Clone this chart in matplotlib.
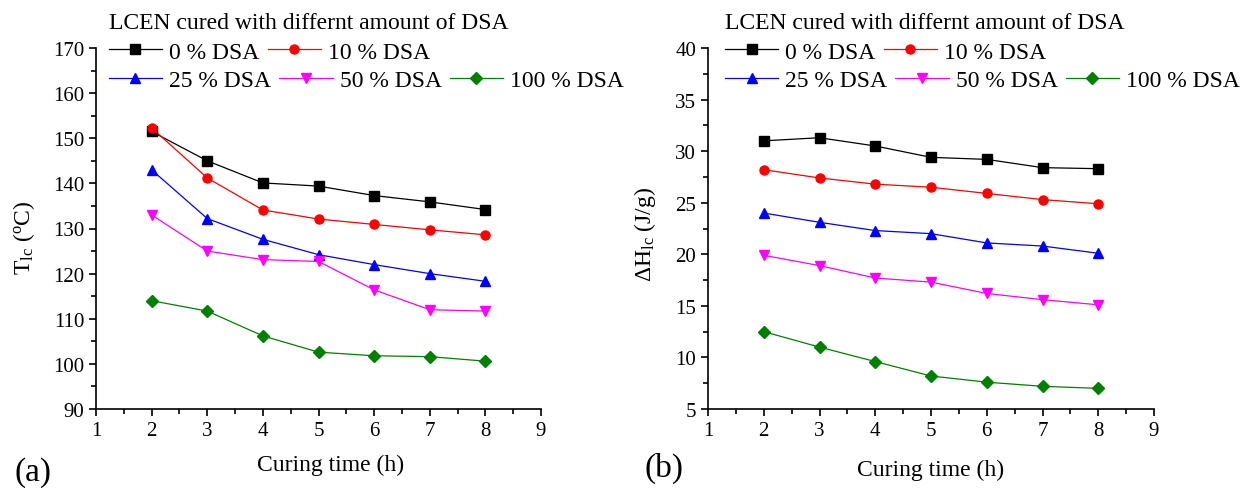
import matplotlib
matplotlib.use("Agg")
import matplotlib.pyplot as plt
from matplotlib.ticker import MultipleLocator

plt.rcParams['font.family'] = ['Liberation Serif', 'DejaVu Serif']
plt.rcParams['mathtext.fontset'] = 'custom'
plt.rcParams['mathtext.rm'] = 'Liberation Serif'
plt.rcParams['mathtext.it'] = 'Liberation Serif:italic'

curing_time = [2, 3, 4, 5, 6, 7, 8]
series_labels = ["0 % DSA", "10 % DSA", "25 % DSA", "50 % DSA", "100 % DSA"]
colors = ["black", "red", "blue", "magenta", "green"]
markers = ["s", "o", "^", "v", "D"]

tlc_0 = [151.5, 145.0, 140.1, 139.4, 137.3, 135.9, 134.2]
tlc_10 = [152.3, 141.2, 134.1, 132.1, 130.9, 129.7, 128.6]
tlc_25 = [143.0, 132.2, 127.6, 124.2, 122.0, 120.0, 118.3]
tlc_50 = [133.0, 125.0, 123.1, 122.7, 116.4, 112.0, 111.7]
tlc_100 = [114.0, 111.7, 106.2, 102.6, 101.8, 101.6, 100.6]

dh_0 = [31.0, 31.3, 30.5, 29.4, 29.2, 28.4, 28.3]
dh_10 = [28.2, 27.4, 26.8, 26.5, 25.9, 25.3, 24.9]
dh_25 = [24.0, 23.1, 22.3, 22.0, 21.1, 20.8, 20.1]
dh_50 = [19.9, 18.9, 17.7, 17.3, 16.2, 15.6, 15.1]
dh_100 = [12.5, 11.0, 9.6, 8.2, 7.6, 7.2, 7.0]

legend_title = "LCEN cured with differnt amount of DSA"

fig = plt.figure(figsize=(12.43, 4.89), dpi=100)
ax1 = fig.add_axes([96/1243, 1-410/489, 445/1243, 361/489])
ax2 = fig.add_axes([708/1243, 1-410/489, 446/1243, 361/489])

FS = 17

def draw(ax, data, ylim, ymaj, ymin, ylabel, panel, xlab_xy, ylab_xy, panel_xy, leg_x):
    handles = []
    for vals, lab, c, m in zip(data, series_labels, colors, markers):
        ms = 6.5 if m != "D" else 5.8
        h, = ax.plot(curing_time, vals, color=c, marker=m, markersize=ms,
                     linewidth=0.9, label=lab)
        handles.append(h)
    ax.set_xlim(1, 9)
    ax.set_ylim(*ylim)
    ax.xaxis.set_major_locator(MultipleLocator(1))
    ax.xaxis.set_minor_locator(MultipleLocator(0.5))
    ax.yaxis.set_major_locator(MultipleLocator(ymaj))
    ax.yaxis.set_minor_locator(MultipleLocator(ymin))
    for s in ["top", "right"]:
        ax.spines[s].set_visible(False)
    for s in ["left", "bottom"]:
        ax.spines[s].set_linewidth(1.2)
    ax.tick_params(which="major", direction="out", length=5, width=1.2, labelsize=15)
    ax.tick_params(which="minor", direction="out", length=3.5, width=1.2)
    ax.set_xlabel("Curing time (h)", fontsize=FS)
    ax.xaxis.set_label_coords(*xlab_xy)
    ax.set_ylabel(ylabel, fontsize=FS)
    ax.yaxis.set_label_coords(*ylab_xy)
    common = dict(fontsize=FS, frameon=False, handlelength=2.25, handletextpad=0.3,
                  columnspacing=0.35, borderaxespad=0, borderpad=0,
                  labelspacing=0.35, loc="upper left")
    legA = ax.legend(handles[:2], series_labels[:2], ncol=2, title=legend_title,
                     title_fontsize=FS, alignment="left",
                     bbox_to_anchor=(leg_x, 1.100), **common)
    ax.add_artist(legA)
    ax.legend(handles[2:], series_labels[2:], ncol=3,
              bbox_to_anchor=(leg_x, 0.940), **common)
    fig.text(panel_xy[0], panel_xy[1], panel, fontsize=24, ha="left", va="center")

draw(ax1, [tlc_0, tlc_10, tlc_25, tlc_50, tlc_100], (90, 170), 10, 5,
     r"T$_\mathregular{lc}$ ($^\mathregular{o}$C)", "(a)", (0.528, -0.125),
     (-0.133, 0.476), (0.012, 1-473/489), 0.029)
draw(ax2, [dh_0, dh_10, dh_25, dh_50, dh_100], (5, 40), 5, 2.5,
     r"$\Delta$H$_\mathregular{lc}$ (J/g)", "(b)", (0.5, -0.138),
     (-0.112, 0.485), (645/1243, 1-468/489), 0.038)

fig.savefig("out.png", dpi=100)
